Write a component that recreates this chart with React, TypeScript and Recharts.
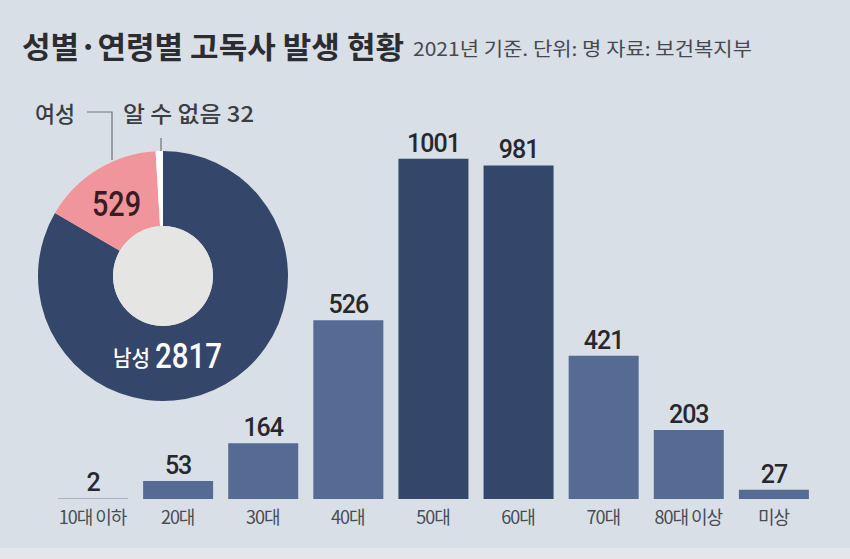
import { BarChart, Bar, XAxis, YAxis, LabelList, Cell, PieChart, Pie } from "recharts";

const ageGroups = ["10대 이하", "20대", "30대", "40대", "50대", "60대", "70대", "80대 이상", "미상"];
const ageCounts = [2, 53, 164, 526, 1001, 981, 421, 203, 27];
const highlightAges = ["50대", "60대"];

const genderNames = ["남성", "여성", "알 수 없음"];
const genderCounts = [2817, 529, 32];
const genderColors = ["#34476a", "#f0959b", "#ffffff"];

const title = "성별·연령별 고독사 발생 현황";
const subtitle = "2021년 기준. 단위: 명  자료: 보건복지부";

const barData = ageGroups.map((age, i) => ({ age, count: ageCounts[i] }));
const pieData = genderNames.map((name, i) => ({ name, value: genderCounts[i] }));

const FONT = "'Noto Sans CJK KR', 'Noto Sans', sans-serif";
const NUM_FONT = "Roboto, 'Liberation Sans', Arial, sans-serif";

const AgeTick = (props: any) => {
  const { x, y, payload } = props;
  return (
    <text x={x} y={y + 17} textAnchor="middle" fontSize={18} fill="#474c55" fontFamily={FONT} letterSpacing={-1}>
      {payload.value}
    </text>
  );
};

const App = () => {
  return (
    <div style={{ position: "absolute", left: 0, top: 0, width: 850, height: 559, background: "#d9dfe6", fontFamily: FONT, overflow: "hidden" }}>
      <div style={{ position: "absolute", left: 0, top: 548, width: 850, height: 11, background: "#e3e7ec" }} />

      <div style={{ position: "absolute", left: 0, top: 0 }}>
        <BarChart width={850} height={559} data={barData} margin={{ top: 125, right: 34, bottom: 0, left: 50 }} barCategoryGap={15}>
          <XAxis dataKey="age" axisLine={false} tickLine={false} height={60} tick={<AgeTick />} interval={0} />
          <YAxis hide domain={[0, 1100]} />
          <Bar dataKey="count" barSize={70} isAnimationActive={false}>
            {barData.map((d) => (
              <Cell key={d.age} fill={d.count < 5 ? "#9aa6b8" : highlightAges.includes(d.age) ? "#34476a" : "#556b94"} />
            ))}
            <LabelList dataKey="count" position="top" offset={7} fontSize={25} fontWeight={500} fill="#26282c" fontFamily={NUM_FONT} letterSpacing={-1} />
          </Bar>
        </BarChart>
      </div>

      <div style={{ position: "absolute", left: 13, top: 126 }}>
        <PieChart width={300} height={300} margin={{ top: 0, right: 0, bottom: 0, left: 0 }}>
          <Pie data={pieData} dataKey="value" cx={150} cy={150} innerRadius={50} outerRadius={125} startAngle={90} endAngle={-270} stroke="none" isAnimationActive={false}>
            {pieData.map((d, i) => (
              <Cell key={d.name} fill={genderColors[i]} />
            ))}
          </Pie>
          <Pie data={[{ name: "hole", value: 1 }]} dataKey="value" cx={150} cy={150} innerRadius={0} outerRadius={50} fill="#e5e5e3" stroke="none" isAnimationActive={false} />
        </PieChart>
      </div>

      <svg width={850} height={559} style={{ position: "absolute", left: 0, top: 0, pointerEvents: "none" }}>
        <text x={22} y={58} fontSize={30} fontWeight={700} fill="#2b2d31" fontFamily={FONT} textLength={382} lengthAdjust="spacingAndGlyphs">{title}</text>
        <text x={413} y={56} fontSize={19} fill="#45494f" fontFamily={FONT} textLength={339} lengthAdjust="spacingAndGlyphs">{subtitle}</text>

        <polyline points="87,112 112,112 112,160" fill="none" stroke="#6f747c" strokeWidth={1.2} />
        <line x1={161} y1={138} x2={161} y2={151} stroke="#6f747c" strokeWidth={1.2} />
        <text x={35} y={122} fontSize={22} fill="#3a3d43" fontFamily={FONT} fontWeight={500} textLength={40} lengthAdjust="spacingAndGlyphs">{genderNames[1]}</text>
        <text x={123} y={122} fontSize={22} fill="#3a3d43" fontFamily={FONT} fontWeight={500} textLength={131} lengthAdjust="spacingAndGlyphs">
          {genderNames[2]} {genderCounts[2]}
        </text>
        <text x={92} y={216} fontSize={35} fontWeight={500} fill="#3a1d22" fontFamily={NUM_FONT} textLength={49} lengthAdjust="spacingAndGlyphs">{genderCounts[1]}</text>
        <text x={113} y={366} fontSize={22} fill="#ffffff" fontFamily={FONT} fontWeight={500} textLength={37} lengthAdjust="spacingAndGlyphs">{genderNames[0]}</text>
        <text x={155} y={368} fontSize={35} fontWeight={500} fill="#ffffff" fontFamily={NUM_FONT} textLength={67} lengthAdjust="spacingAndGlyphs">{genderCounts[0]}</text>
      </svg>
    </div>
  );
};

export default App;
